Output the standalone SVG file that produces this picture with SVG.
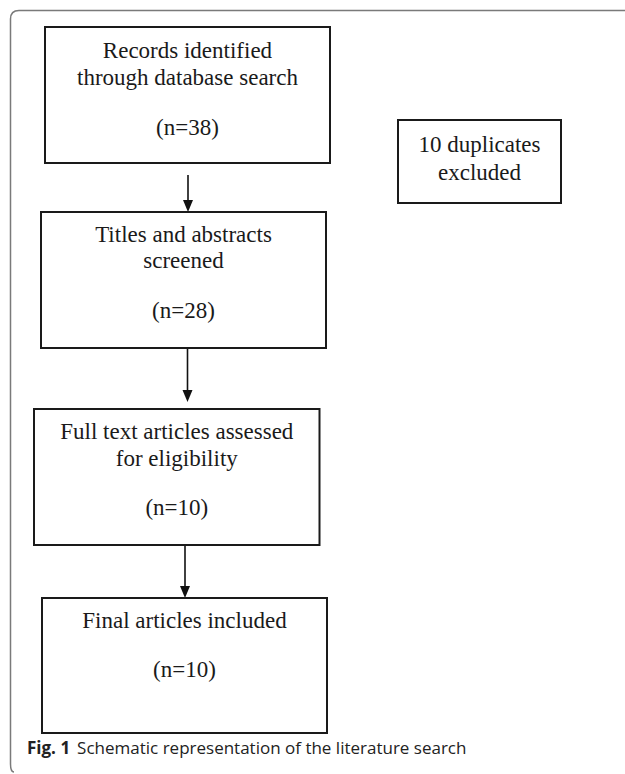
<svg xmlns="http://www.w3.org/2000/svg" width="625" height="774" viewBox="0 0 625 774">
<style>
.box{fill:#fff;stroke:#1a1a1a;stroke-width:2}
.t{font-family:"Liberation Serif","Times New Roman",serif;font-size:23px;fill:#1a1a1a;text-anchor:middle}
.c{stroke:#111;stroke-width:1.6;fill:none}
.cap{font-family:"Open Sans","Noto Sans",sans-serif;font-size:17px;fill:#222}
</style>
<rect x="0" y="0" width="625" height="774" fill="#fff"/>
<path d="M625,10.5 L19,10.5 Q10.5,10.5 10.5,19 L10.5,764 Q10.5,772 14,772" fill="none" stroke="#7a7a7a" stroke-width="1.5"/>
<g id="connectors">
<line class="c" x1="188" y1="175" x2="188" y2="200"/>
<path d="M183,200 L193,200 L188,212 Z" fill="#111"/>
<line class="c" x1="187.5" y1="348" x2="187.5" y2="390"/>
<path d="M182.5,390 L192.5,390 L187.5,402 Z" fill="#111"/>
<line class="c" x1="185" y1="545" x2="185" y2="586"/>
<path d="M180,586 L190,586 L185,598 Z" fill="#111"/>
</g>
<g id="n1">
<rect class="box" x="45" y="27" width="285" height="136"/>
<text class="t" x="187.5" y="58">Records identified</text>
<text class="t" x="187.5" y="85">through database search</text>
<text class="t" x="187.5" y="135">(n=38)</text>
</g>
<g id="n2">
<rect class="box" x="41" y="212" width="285" height="136"/>
<text class="t" x="183.5" y="242">Titles and abstracts</text>
<text class="t" x="183.5" y="268">screened</text>
<text class="t" x="183.5" y="318">(n=28)</text>
</g>
<g id="n3">
<rect class="box" x="34" y="409" width="285.5" height="136"/>
<text class="t" x="176.8" y="439">Full text articles assessed</text>
<text class="t" x="176.8" y="466">for eligibility</text>
<text class="t" x="176.8" y="515">(n=10)</text>
</g>
<g id="n4">
<rect class="box" x="42" y="598" width="285" height="135"/>
<text class="t" x="184.5" y="628">Final articles included</text>
<text class="t" x="184.5" y="677">(n=10)</text>
</g>
<g id="n5">
<rect class="box" x="398" y="120" width="163" height="83"/>
<text class="t" x="479.5" y="152">10 duplicates</text>
<text class="t" x="479.5" y="180">excluded</text>
</g>
<text class="cap" x="27" y="754"><tspan font-weight="bold">Fig. 1</tspan><tspan dx="7">Schematic representation of the literature search</tspan></text>
</svg>
